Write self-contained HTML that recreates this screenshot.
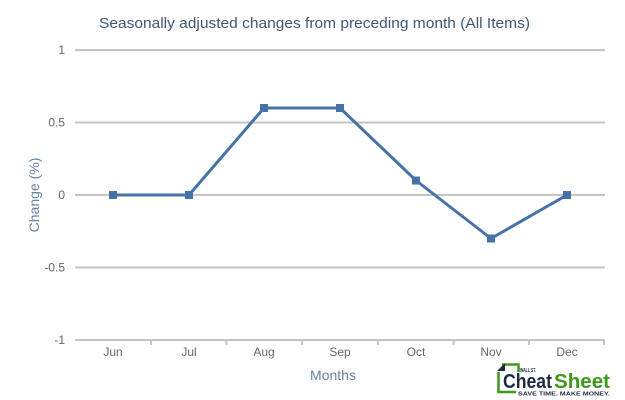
<!DOCTYPE html>
<html>
<head>
<meta charset="utf-8">
<style>
  html,body{margin:0;padding:0;background:#fff;}
  body{width:625px;height:400px;overflow:hidden;}
  svg{display:block;font-family:"Liberation Sans",Arial,sans-serif;}
</style>
</head>
<body>
<svg width="625" height="400" viewBox="0 0 625 400" xmlns="http://www.w3.org/2000/svg">
  <rect width="625" height="400" fill="#fff"/>
  <!-- Title -->
  <text x="99" y="28" font-size="15" fill="#3e576f" textLength="431" lengthAdjust="spacingAndGlyphs">Seasonally adjusted changes from preceding month (All Items)</text>

  <!-- Grid lines -->
  <g stroke="#c4c4c4" stroke-width="2">
    <line x1="75" y1="50" x2="605" y2="50"/>
    <line x1="75" y1="122.5" x2="605" y2="122.5"/>
    <line x1="75" y1="195" x2="605" y2="195"/>
    <line x1="75" y1="267.5" x2="605" y2="267.5"/>
    <line x1="75" y1="340" x2="605" y2="340"/>
  </g>
  <!-- x ticks -->
  <g stroke="#c4c4c4" stroke-width="2">
    <line x1="151" y1="340" x2="151" y2="345"/>
    <line x1="226.5" y1="340" x2="226.5" y2="345"/>
    <line x1="302" y1="340" x2="302" y2="345"/>
    <line x1="378" y1="340" x2="378" y2="345"/>
    <line x1="453.5" y1="340" x2="453.5" y2="345"/>
    <line x1="529" y1="340" x2="529" y2="345"/>
    <line x1="604" y1="340" x2="604" y2="345"/>
  </g>

  <!-- Y labels -->
  <g font-size="12" fill="#666" text-anchor="end">
    <text x="65" y="54">1</text>
    <text x="65" y="126.5">0.5</text>
    <text x="65" y="199">0</text>
    <text x="65" y="271.5">-0.5</text>
    <text x="65" y="344">-1</text>
  </g>
  <!-- X labels -->
  <g font-size="12" fill="#666" text-anchor="middle">
    <text x="113" y="356">Jun</text>
    <text x="189" y="356">Jul</text>
    <text x="264" y="356">Aug</text>
    <text x="340" y="356">Sep</text>
    <text x="416" y="356">Oct</text>
    <text x="491" y="356">Nov</text>
    <text x="567" y="356">Dec</text>
  </g>

  <!-- Axis titles -->
  <text x="333" y="380" font-size="14" fill="#6582a6" text-anchor="middle">Months</text>
  <text transform="translate(39,195) rotate(-90)" font-size="14" fill="#6582a6" text-anchor="middle">Change (%)</text>

  <!-- Series -->
  <polyline fill="none" stroke="#4572a7" stroke-width="3" stroke-linejoin="round"
    points="113,195 189,195 264,108 340,108 416,180.5 491,238.5 567,195"/>
  <g fill="#4572a7">
    <rect x="109" y="191" width="8" height="8"/>
    <rect x="185" y="191" width="8" height="8"/>
    <rect x="260" y="104" width="8" height="8"/>
    <rect x="336" y="104" width="8" height="8"/>
    <rect x="412" y="176.5" width="8" height="8"/>
    <rect x="487" y="234.5" width="8" height="8"/>
    <rect x="563" y="191" width="8" height="8"/>
  </g>

  <!-- Logo -->
  <g>
    <path d="M502,364.5 L518.5,364.5 L518.5,372" fill="none" stroke="#3d9a1e" stroke-width="2.5"/>
    <path d="M498.5,372 L498.5,392 L516,392" fill="none" stroke="#3d9a1e" stroke-width="2.5"/>
    <path d="M497,371 L505,363 L505,371 Z" fill="#1e2a40"/>
    <text x="520" y="372" font-size="5.5" font-weight="bold" fill="#1e2a40" textLength="16" lengthAdjust="spacingAndGlyphs">WALL ST.</text>
    <text x="503" y="388" font-size="20" font-weight="bold" fill="#1e2a40" textLength="49" lengthAdjust="spacingAndGlyphs">Cheat</text>
    <text x="554" y="388" font-size="20" font-weight="bold" fill="#3d9a1e" textLength="56" lengthAdjust="spacingAndGlyphs">Sheet</text>
    <text x="518" y="395.5" font-size="5.5" font-weight="bold" fill="#1e2a40" textLength="92" lengthAdjust="spacingAndGlyphs">SAVE TIME. MAKE MONEY.</text>
  </g>
</svg>
</body>
</html>
